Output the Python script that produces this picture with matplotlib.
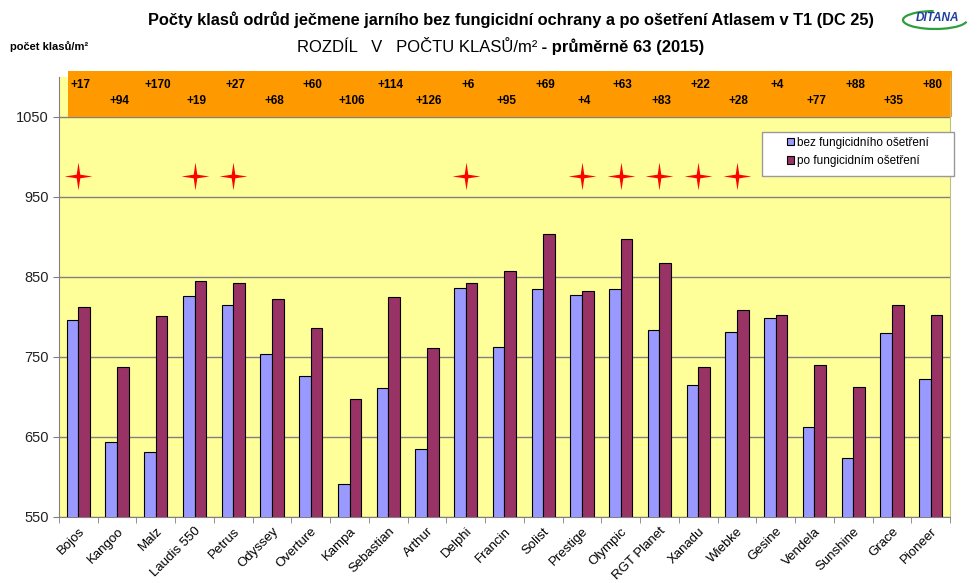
import matplotlib
matplotlib.use("Agg")
import matplotlib.pyplot as plt
import matplotlib.transforms as mtransforms
import numpy as np
from matplotlib.patches import Rectangle, Arc
from matplotlib.path import Path

plt.rcParams["font.family"] = ["Liberation Sans", "DejaVu Sans"]

varieties = ["Bojos", "Kangoo", "Malz", "Laudis 550", "Petrus", "Odyssey", "Overture",
             "Kampa", "Sebastian", "Arthur", "Delphi", "Francin", "Solist", "Prestige",
             "Olympic", "RGT Planet", "Xanadu", "Wiebke", "Gesine", "Vendela",
             "Sunshine", "Grace", "Pioneer"]
untreated = [796, 644, 631, 826, 815, 754, 726, 591, 711, 635, 836, 763,
             835, 828, 835, 784, 715, 781, 799, 663, 624, 780, 723]
treated = [813, 738, 801, 845, 842, 822, 786, 697, 825, 761, 842, 858,
           904, 832, 898, 867, 737, 809, 803, 740, 712, 815, 803]
diff_labels = ["+17", "+94", "+170", "+19", "+27", "+68", "+60", "+106", "+114", "+126",
               "+6", "+95", "+69", "+4", "+63", "+83", "+22", "+28", "+4", "+77",
               "+88", "+35", "+80"]
star_idx = [0, 3, 4, 10, 13, 14, 15, 16, 17]
star_level = 976
yticks = [550, 650, 750, 850, 950, 1050]

legend_labels = ["bez fungicidního ošetření", "po fungicidním ošetření"]
title1 = "Počty klasů odrůd ječmene jarního bez fungicidní ochrany a po ošetření Atlasem v T1 (DC 25)"
title2a = "ROZDÍL   V   POČTU KLASŮ/m²"
title2b = " - průměrně 63 (2015)"

# four-pointed star marker
star = Path([(0, 1), (0.13, 0.13), (1, 0), (0.13, -0.13), (0, -1),
             (-0.13, -0.13), (-1, 0), (-0.13, 0.13), (0, 1)], closed=True)

fig = plt.figure(figsize=(9.79, 5.83), dpi=100)
ax = fig.add_axes([59 / 979, 1 - 517 / 583, 891 / 979, (517 - 77) / 583])
ax.set_facecolor("#FFFF99")

x = np.arange(len(varieties))
w = 0.3
ax.bar(x - w / 2, untreated, w, color="#9999FF", edgecolor="black", linewidth=0.8,
       label=legend_labels[0], zorder=3)
ax.bar(x + w / 2, treated, w, color="#993366", edgecolor="black", linewidth=0.8,
       label=legend_labels[1], zorder=3)

ax.plot(x[star_idx], [star_level] * len(star_idx), linestyle="none", marker=star,
        markersize=20, color="#FF0000", markeredgewidth=0, zorder=4)

ax.set_xlim(-0.5, len(varieties) - 0.5)
ax.set_ylim(550, 1100)
ax.set_yticks(yticks)
ax.yaxis.grid(True, color="#808080", linewidth=1.0, zorder=1)
ax.tick_params(axis="y", labelsize=10.5, length=4, color="#808080", labelcolor="#222222")

ax.set_xticks(x)
ax.set_xticklabels(varieties, rotation=45, ha="right", rotation_mode="anchor", fontsize=9.5)
ax.tick_params(axis="x", length=0, pad=6)
ax.set_xticks(np.arange(len(varieties) + 1) - 0.5, minor=True)
ax.tick_params(axis="x", which="minor", length=4, color="#808080")

for side in ["left", "bottom"]:
    ax.spines[side].set_color("#808080")
ax.spines["right"].set_color("#BFBF80")
ax.spines["top"].set_visible(False)

# orange strip with differences
blend = mtransforms.blended_transform_factory(ax.transAxes, ax.transData)
ax.add_patch(Rectangle((9 / 891, 1050), 884 / 891, 57, transform=blend,
                       facecolor="#FF9900", edgecolor="none", clip_on=False, zorder=2))
for i, lab in enumerate(diff_labels):
    ax.text(i + 0.05, 1090 if i % 2 == 0 else 1070, lab, ha="center", va="center",
            fontsize=8.5, fontweight="bold", zorder=5, clip_on=False)

# legend with a separate white frame
ax.add_patch(Rectangle(((762 - 59) / 891, (517 - 176) / 440), 192 / 891, 44 / 440,
                       transform=ax.transAxes, facecolor="white", edgecolor="#999999",
                       linewidth=1.0, clip_on=False, zorder=5))
leg = ax.legend(loc="upper left", bbox_to_anchor=((783 - 59) / 891, (517 - 133) / 440),
                fontsize=8.5, frameon=False, handlelength=0.6, handleheight=0.6,
                handletextpad=0.3, borderpad=0.3, borderaxespad=0, labelspacing=0.55)
leg.set_zorder(6)

fig.text(511 / 979, 1 - 20 / 583, title1, ha="center", va="center", fontsize=11.8,
         fontweight="bold")
t2 = fig.text(297 / 979, 1 - 47 / 583, title2a, ha="left", va="center", fontsize=12)
fig.canvas.draw()
bb = t2.get_window_extent()
fig.text(bb.x1 / fig.bbox.width, 1 - 47 / 583, title2b, ha="left", va="center",
         fontsize=12, fontweight="bold")
fig.text(10 / 979, 1 - 47 / 583, "počet klasů/m²", ha="left", va="center", fontsize=8,
         fontweight="bold")

# DITANA logo
fig.patches.append(Arc((935 / 979, 1 - 20 / 583), 64 / 979, 18 / 583, theta1=95,
                       theta2=355, transform=fig.transFigure, edgecolor="#2E9E3E",
                       linewidth=1.6))
fig.text(938 / 979, 1 - 18 / 583, "DITANA", ha="center", va="center", fontsize=8.5,
         fontweight="bold", fontstyle="italic", color="#1F3F9F")

fig.savefig("out.png", dpi=100)
